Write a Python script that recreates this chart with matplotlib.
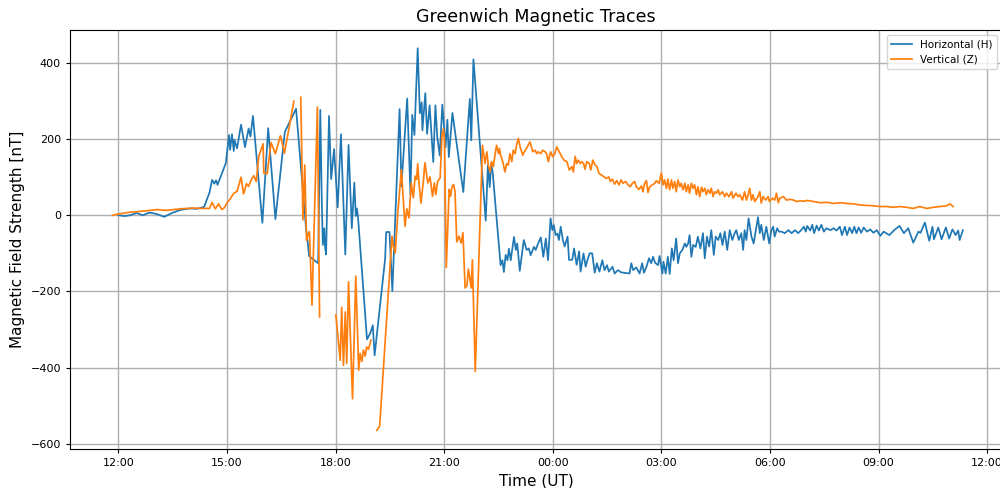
import numpy as np
import pandas as pd
import matplotlib
matplotlib.use("Agg")
import matplotlib.pyplot as plt
import matplotlib.dates as mdates

# Hours after 12:00 UT on the first day
START = pd.Timestamp("1859-09-01 12:00")

H_HOURS = [0.00, 0.18, 0.32, 0.51, 0.67, 0.86, 1.04, 1.27, 1.48, 1.71, 1.97, 2.17, 2.37, 2.52, 2.59, 2.65,
           2.70, 2.74, 2.97, 3.06, 3.09, 3.14, 3.19, 3.21, 3.28, 3.39, 3.50, 3.60, 3.65, 3.72, 3.98, 4.14,
           4.34, 4.60, 4.91, 5.19, 5.23, 5.27, 5.52, 5.58, 5.62, 5.65, 5.69, 5.71, 5.74, 5.82, 5.88, 5.96,
           6.06, 6.15, 6.27, 6.36, 6.45, 6.52, 6.56, 6.59, 6.62, 6.87, 6.96, 7.03, 7.08, 7.37, 7.40, 7.49,
           7.57, 7.77, 7.82, 7.98, 8.07, 8.12, 8.18, 8.27, 8.33, 8.38, 8.40, 8.48, 8.53, 8.60, 8.70, 8.76,
           8.81, 8.88, 8.95, 9.04, 9.09, 9.13, 9.23, 9.53, 9.71, 9.75, 9.81, 10.15, 10.21, 10.26, 10.30, 10.34,
           10.56, 10.61, 10.65, 10.70, 10.75, 10.79, 10.84, 10.93, 10.98, 11.02, 11.09, 11.20, 11.28, 11.34, 11.39, 11.48,
           11.53, 11.58, 11.67, 11.74, 11.81, 11.87, 11.94, 11.99, 12.03, 12.08, 12.13, 12.17, 12.22, 12.28, 12.33, 12.41,
           12.45, 12.54, 12.59, 12.66, 12.73, 12.77, 12.85, 12.91, 12.96, 13.02, 13.09, 13.16, 13.22, 13.29, 13.37, 13.43,
           13.50, 13.55, 13.65, 13.71, 13.80, 13.89, 14.12, 14.17, 14.22, 14.31, 14.40, 14.47, 14.52, 14.59, 14.66, 14.72,
           14.77, 14.83, 14.91, 14.95, 15.03, 15.06, 15.12, 15.18, 15.23, 15.29, 15.34, 15.41, 15.46, 15.51, 15.58, 15.65,
           15.69, 15.74, 15.78, 15.83, 15.88, 15.95, 16.01, 16.08, 16.15, 16.20, 16.26, 16.32, 16.38, 16.45, 16.50, 16.57,
           16.63, 16.69, 16.75, 16.82, 16.89, 16.96, 17.03, 17.07, 17.14, 17.21, 17.26, 17.30, 17.35, 17.41, 17.49, 17.55,
           17.61, 17.67, 17.72, 17.76, 17.83, 17.90, 17.98, 18.04, 18.09, 18.13, 18.20, 18.25, 18.32, 18.41, 18.51, 18.60,
           18.69, 18.78, 18.85, 18.94, 18.99, 19.03, 19.11, 19.17, 19.22, 19.29, 19.35, 19.42, 19.49, 19.56, 19.67, 19.76,
           19.84, 19.93, 19.99, 20.07, 20.13, 20.20, 20.27, 20.33, 20.39, 20.45, 20.52, 20.59, 20.68, 20.77, 20.86, 20.95,
           21.05, 21.14, 21.30, 21.43, 21.58, 21.70, 21.82, 21.96, 22.10, 22.16, 22.28, 22.40, 22.49, 22.53, 22.65, 22.74,
           22.86, 22.95, 23.04, 23.13, 23.20, 23.24, 23.33]
H_VALUES = [0, -2, 0, 6, 0, 7, 4, -4, 6, 14, 18, 17, 22, 60, 93, 83,
            92, 80, 137, 211, 172, 213, 169, 198, 176, 238, 179, 228, 207, 261, -20, 229,
            -10, 219, 280, -39, -69, -107, -126, 277, 40, -78, -34, -82, -103, 261, 95, 174,
            21, 213, -103, 185, -34, 86, -2, 18, -3, -326, -310, -289, -368, -115, -44, -44,
            -199, 279, 76, 307, 54, 264, 211, 439, 268, 297, 223, 321, 214, 289, 140, 289,
            206, 157, 291, 179, 251, 153, 269, 61, 306, 197, 410, -14, 134, 74, 136, 114,
            -131, -118, -149, -104, -118, -88, -118, -57, -91, -74, -146, -65, -91, -87, -105, -83,
            -91, -78, -58, -109, -61, -118, -8, -39, -26, -52, -48, -65, -30, -65, -82, -56,
            -117, -117, -87, -130, -95, -148, -100, -135, -117, -100, -100, -151, -126, -148, -118, -144,
            -131, -148, -135, -153, -144, -150, -153, -126, -144, -137, -153, -126, -151, -135, -113, -126,
            -109, -125, -131, -107, -153, -122, -153, -109, -154, -87, -118, -61, -126, -100, -91, -74,
            -83, -74, -52, -109, -78, -83, -56, -87, -47, -113, -56, -82, -39, -104, -56, -65,
            -47, -78, -43, -91, -39, -65, -46, -39, -65, -47, -91, -39, -65, -8, -56, -74,
            -39, -5, -47, -25, -65, -30, -74, -39, -30, -56, -34, -43, -43, -47, -39, -47,
            -39, -47, -40, -30, -43, -28, -40, -25, -47, -27, -40, -25, -43, -34, -39, -34,
            -40, -30, -52, -30, -52, -32, -47, -30, -47, -32, -46, -32, -43, -37, -46, -39,
            -54, -43, -52, -39, -28, -47, -34, -72, -43, -46, -19, -67, -30, -63, -32, -63,
            -32, -61, -37, -52, -40, -65, -39]

Z_HOURS = [-0.16, 0.05, 0.32, 0.69, 1.06, 1.34, 1.71, 2.08, 2.35, 2.52, 2.59, 2.68, 2.77, 2.86, 2.93, 3.00,
           3.09, 3.19, 3.28, 3.32, 3.39, 3.46, 3.54, 3.60, 3.67, 3.74, 3.81, 3.88, 4.00, 4.02, 4.11, 4.22,
           4.34, 4.48, 4.59, 4.85, 4.95, 5.04, 5.10, 5.15, 5.20, 5.24, 5.28, 5.35, 5.50, 5.56, 5.80, 6.01,
           6.13, 6.17, 6.22, 6.27, 6.31, 6.36, 6.47, 6.56, 6.64, 6.68, 6.73, 6.77, 6.82, 6.86, 6.91, 6.98,
           7.06, 7.14, 7.22, 7.56, 7.60, 7.65, 7.72, 7.82, 7.88, 7.92, 7.97, 8.03, 8.09, 8.15, 8.20, 8.24,
           8.27, 8.31, 8.36, 8.43, 8.47, 8.55, 8.61, 8.68, 8.73, 8.77, 8.82, 8.89, 8.94, 8.98, 9.01, 9.06,
           9.14, 9.18, 9.21, 9.26, 9.30, 9.35, 9.41, 9.47, 9.52, 9.58, 9.63, 9.67, 9.75, 9.78, 9.86, 10.06,
           10.13, 10.18, 10.22, 10.27, 10.31, 10.36, 10.41, 10.45, 10.50, 10.53, 10.56, 10.62, 10.68, 10.73, 10.77, 10.82,
           10.87, 10.91, 10.96, 11.00, 11.05, 11.10, 11.17, 11.24, 11.30, 11.37, 11.45, 11.51, 11.56, 11.60, 11.67, 11.72,
           11.79, 11.83, 11.88, 11.94, 12.00, 12.06, 12.11, 12.18, 12.25, 12.31, 12.39, 12.46, 12.53, 12.57, 12.62, 12.66,
           12.71, 12.76, 12.80, 12.85, 12.89, 12.94, 13.01, 13.05, 13.11, 13.17, 13.22, 13.28, 13.34, 13.41, 13.48, 13.55,
           13.59, 13.65, 13.71, 13.77, 13.83, 13.89, 13.94, 14.01, 14.08, 14.14, 14.20, 14.26, 14.31, 14.38, 14.45, 14.49,
           14.54, 14.59, 14.63, 14.68, 14.75, 14.82, 14.86, 14.94, 15.00, 15.05, 15.09, 15.14, 15.18, 15.23, 15.28, 15.32,
           15.37, 15.41, 15.46, 15.51, 15.55, 15.60, 15.65, 15.69, 15.74, 15.78, 15.83, 15.88, 15.92, 15.97, 16.01, 16.06,
           16.11, 16.15, 16.20, 16.24, 16.29, 16.34, 16.38, 16.43, 16.47, 16.52, 16.57, 16.61, 16.69, 16.75, 16.80, 16.87,
           16.94, 16.98, 17.06, 17.12, 17.17, 17.24, 17.30, 17.35, 17.40, 17.44, 17.49, 17.53, 17.58, 17.67, 17.72, 17.76,
           17.81, 17.88, 17.95, 17.99, 18.07, 18.13, 18.18, 18.23, 18.27, 18.37, 18.46, 18.55, 18.65, 18.74, 18.83, 18.94,
           19.03, 19.22, 19.40, 19.58, 19.76, 19.95, 20.13, 20.31, 20.50, 20.68, 20.86, 21.05, 21.23, 21.41, 21.59, 21.78,
           21.96, 22.14, 22.33, 22.51, 22.69, 22.88, 22.97, 23.06]
Z_VALUES = [0, 4, 8, 11, 15, 13, 17, 19, 18, 18, 34, 17, 30, 15, 20, 32,
            43, 58, 63, 76, 100, 56, 83, 76, 93, 104, 89, 155, 188, 111, 109, 191,
            162, 209, 163, 300, np.nan, 310, -12, 132, -66, -50, -43, -236, 284, -267, np.nan, -262,
            -381, -242, -394, -254, -389, -175, -482, -160, -407, -363, -384, -354, -370, -346, -352, -328,
            np.nan, -565, -554, -55, -82, -99, 6, 120, 32, -29, 17, -7, 85, 46, 103, 94,
            135, 81, 32, 92, 138, 85, 101, 50, 85, 54, 89, 98, 208, 227, 199, -137,
            68, 50, 72, 81, 63, -70, -55, -73, -46, -191, -185, -141, -191, -117, -410, 184,
            136, 167, 132, 114, 141, 128, 162, 184, 162, 176, 158, 141, 114, 136, 132, 162,
            141, 171, 162, 184, 202, 180, 158, 171, 180, 193, 167, 171, 162, 167, 162, 171,
            167, 162, 141, 167, 154, 162, 180, 167, 154, 145, 141, 119, 128, 114, 155, 136,
            145, 136, 141, 136, 121, 141, 136, 119, 145, 132, 128, 110, 106, 101, 97, 101,
            89, 95, 82, 91, 80, 93, 84, 89, 80, 75, 84, 89, 75, 68, 77, 62,
            84, 91, 60, 75, 80, 84, 91, 84, 111, 80, 93, 71, 95, 67, 93, 71,
            89, 62, 93, 75, 84, 67, 84, 62, 80, 58, 84, 71, 80, 54, 75, 49,
            74, 62, 71, 54, 67, 58, 71, 49, 62, 58, 67, 54, 62, 49, 58, 49,
            62, 45, 58, 49, 54, 40, 62, 40, 54, 71, 40, 54, 36, 49, 62, 32,
            49, 40, 49, 36, 45, 40, 58, 33, 45, 49, 40, 42, 40, 36, 38, 37,
            39, 36, 33, 34, 31, 33, 31, 30, 27, 26, 25, 23, 23, 21, 23, 21,
            18, 23, 18, 21, 23, 25, 30, 23]

LABEL_H = "Horizontal (H)"
LABEL_Z = "Vertical (Z)"

h_time = START + pd.to_timedelta(H_HOURS, unit="h")
z_time = START + pd.to_timedelta(Z_HOURS, unit="h")

fig = plt.figure(figsize=(10, 4.88), dpi=100)
ax = fig.add_axes([0.070, 0.080, 0.932, 0.8586])

ax.plot(h_time, H_VALUES, color="#1f77b4", lw=1.25, label=LABEL_H)
ax.plot(z_time, Z_VALUES, color="#ff7f0e", lw=1.25, label=LABEL_Z)

ax.set_xlim(START + pd.to_timedelta(-1.334, unit="h"), START + pd.to_timedelta(24.41, unit="h"))
ax.set_ylim(-614, 487)
ax.set_yticks([-600, -400, -200, 0, 200, 400])

ax.xaxis.set_major_locator(mdates.HourLocator(byhour=[0, 3, 6, 9, 12, 15, 18, 21]))
ax.xaxis.set_major_formatter(mdates.DateFormatter("%H:%M"))
ax.tick_params(labelsize=8, length=3)

ax.grid(True, color="#b0b0b0", lw=1.0)
ax.set_title("Greenwich Magnetic Traces", fontsize=12.5)
ax.set_xlabel("Time (UT)", fontsize=11)
ax.set_ylabel("Magnetic Field Strength [nT]", fontsize=11)
ax.legend(loc="upper right", fontsize=7.5)

fig.savefig("out.png", dpi=100)
